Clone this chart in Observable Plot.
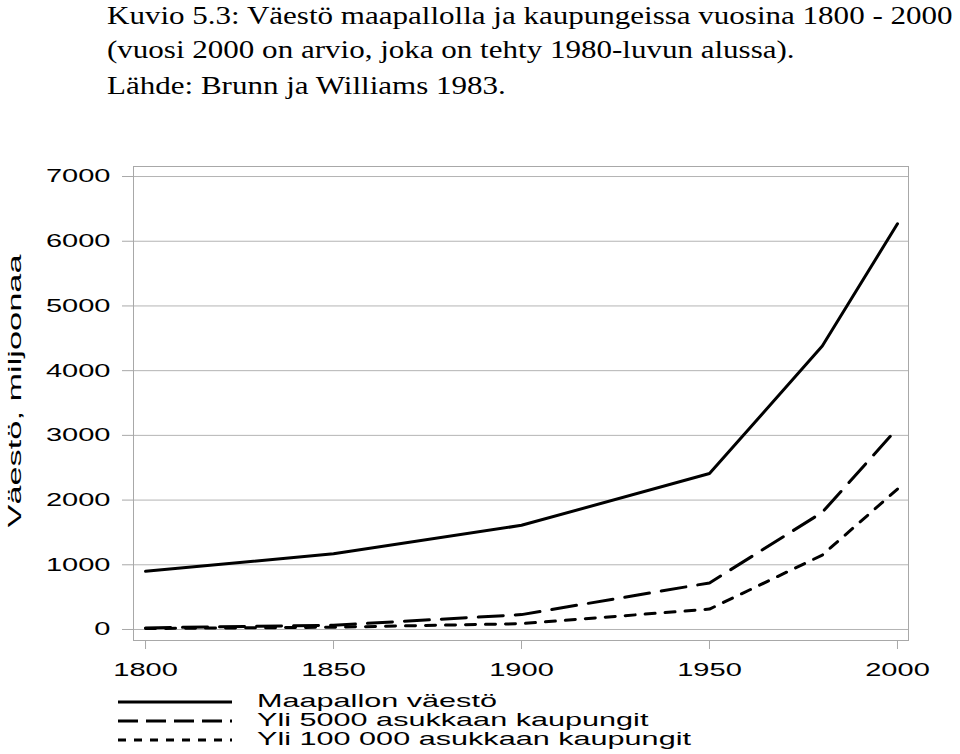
<!DOCTYPE html>
<html><head><meta charset="utf-8">
<script src="https://cdn.jsdelivr.net/npm/d3@7"></script>
<script src="https://cdn.jsdelivr.net/npm/@observablehq/plot@0.6"></script>
<style>
body{margin:0;background:#fff;width:960px;height:754px;overflow:hidden}
svg,div{display:block}
</style>
</head><body>
<svg id="title" width="960" height="120"></svg>
<div id="chart"></div>
<svg id="legend" width="960" height="74"></svg>
<script>
const years = [1800, 1850, 1900, 1950, 1980, 2000];
const world = [900, 1170, 1610, 2410, 4380, 6270];
const cities5000 = [25, 65, 230, 720, 1810, 3110];
const cities100000 = [15, 35, 90, 315, 1150, 2170];
const seriesNames = ["Maapallon väestö", "Yli 5000 asukkaan kaupungit", "Yli 100 000 asukkaan kaupungit"];
const xTicks = [1800, 1850, 1900, 1950, 2000];
const yTicks = [0, 1000, 2000, 3000, 4000, 5000, 6000, 7000];
const titleLines = [
  "Kuvio 5.3: Väestö maapallolla ja kaupungeissa vuosina 1800 - 2000",
  "(vuosi 2000 on arvio, joka on tehty 1980-luvun alussa).",
  "Lähde: Brunn ja Williams 1983."
];
const yLabel = "Väestö, miljoonaa";

const SANS = "Liberation Sans, Arial, sans-serif";
const SX = 1.57;
const rows = s => years.map((year, i) => ({year, value: s[i]}));

const chart = Plot.plot({
  width: 960, height: 560,
  marginTop: 46, marginBottom: 40, marginLeft: 133, marginRight: 52,
  style: {fontFamily: SANS, fontSize: "18.5px", color: "#000", background: "#fff"},
  x: {domain: [1796.8, 2002.93]},
  y: {domain: [-170, 7155]},
  marks: [
    Plot.gridY(yTicks, {stroke: "#b4b4b4", strokeOpacity: 1, strokeWidth: 1}),
    Plot.frame({stroke: "#a8a8a8"}),
    Plot.axisY(yTicks, {tickSize: 11, tickPadding: 12, stroke: "#a8a8a8", fill: "#000", label: null, tickFormat: "d", fontSize: 18.5}),
    Plot.axisX(xTicks, {tickSize: 9, tickPadding: 13, stroke: "#a8a8a8", fill: "#000", label: null, tickFormat: "d", fontSize: 18.5}),
    Plot.line(rows(cities100000), {x: "year", y: "value", stroke: "#000", strokeWidth: 3, strokeDasharray: "10,10", strokeLinejoin: "miter"}),
    Plot.line(rows(cities5000), {x: "year", y: "value", stroke: "#000", strokeWidth: 3, strokeDasharray: "25,12", strokeLinejoin: "miter"}),
    Plot.line(rows(world), {x: "year", y: "value", stroke: "#000", strokeWidth: 3, strokeLinejoin: "miter"})
  ]
});
document.getElementById("chart").appendChild(chart);

// widen axis tick labels horizontally to match the reference lettering
d3.select(chart).selectAll('g[aria-label$="tick label"] text').each(function() {
  const t = d3.select(this);
  let tr = t.attr("transform");
  if (!tr) {
    tr = `translate(${t.attr("x") || 0},${t.attr("y") || 0})`;
    t.attr("x", null).attr("y", null);
  }
  t.attr("transform", tr + ` scale(${SX},1)`);
});

// y axis label
const yl = d3.select(chart).append("text")
  .text(yLabel)
  .attr("font-family", SANS).attr("font-size", 18.5)
  .attr("text-anchor", "middle").attr("dominant-baseline", "central")
  .attr("fill", "#000");
const ylLen = yl.node().getComputedTextLength();
yl.attr("transform", `translate(15,271) rotate(-90) scale(${273 / ylLen},1)`);

// title
const tg = d3.select("#title").append("g");
const baselines = [24, 58, 94];
titleLines.forEach((s, i) => {
  tg.append("text").text(s).attr("x", 0).attr("y", baselines[i])
    .attr("font-family", "Liberation Serif, Times New Roman, serif")
    .attr("font-size", 25.5).attr("fill", "#000");
});
const tLen = tg.select("text").node().getComputedTextLength();
tg.attr("transform", `translate(107,0) scale(${846 / tLen},1)`);

// legend
const lg = d3.select("#legend");
const dashes = [null, "20,8", "8,8"];
const lineY = [22, 41, 60];
const textY = [27, 46.5, 65];
seriesNames.forEach((s, i) => {
  lg.append("line").attr("x1", 118).attr("x2", 232).attr("y1", lineY[i]).attr("y2", lineY[i])
    .attr("stroke", "#000").attr("stroke-width", 3).attr("stroke-dasharray", dashes[i]);
});
const lt = lg.append("g");
seriesNames.forEach((s, i) => {
  lt.append("text").text(s).attr("x", 0).attr("y", textY[i])
    .attr("font-family", SANS).attr("font-size", 18).attr("fill", "#000");
});
const lLen = lt.selectAll("text").nodes()[2].getComputedTextLength();
lt.attr("transform", `translate(257,0) scale(${434 / lLen},1)`);
</script>
</body></html>
